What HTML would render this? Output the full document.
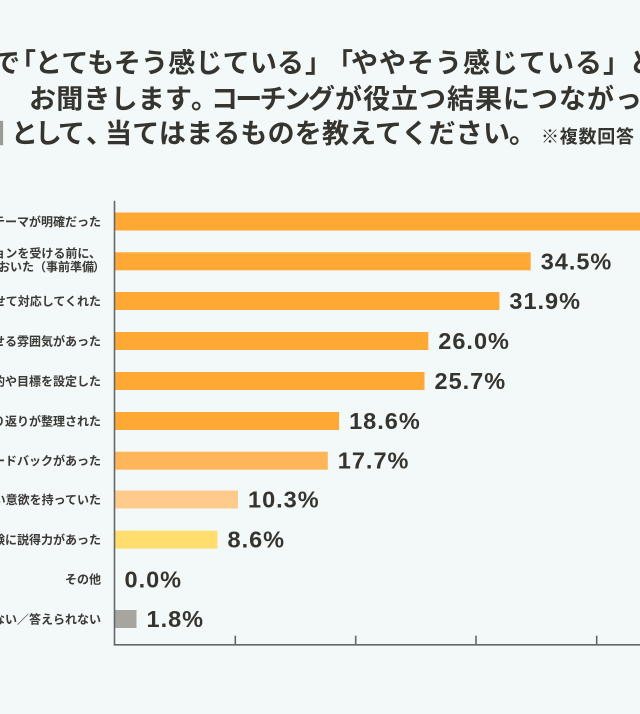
<!DOCTYPE html>
<html>
<head>
<meta charset="utf-8">
<style>
html,body{margin:0;padding:0;background:#F3F9F9;overflow:hidden;}
body{width:640px;height:714px;}
svg{display:block;}
.t{font-family:"Liberation Sans","Noto Sans CJK JP",sans-serif;font-weight:bold;fill:#35342f;}
.lab{font-family:"Liberation Sans","Noto Sans CJK JP",sans-serif;font-weight:bold;font-size:12px;fill:#3a3935;}
.val{font-family:"Liberation Sans","DejaVu Sans",sans-serif;font-weight:bold;font-size:23.5px;letter-spacing:1px;fill:#35342f;}
</style>
</head>
<body>
<svg width="640" height="714" viewBox="0 0 640 714" xmlns="http://www.w3.org/2000/svg">
<rect x="0" y="0" width="640" height="714" fill="#F3F9F9"/>

<!-- Title -->
<g class="t" font-size="27">
  <text x="-7" y="72.5">で</text>
  <text x="9" y="72.5">「</text>
  <text x="35" y="72.5" textLength="269" lengthAdjust="spacing">とてもそう感じている</text>
  <text x="305" y="72.5">」</text>
  <text x="326" y="72.5">「</text>
  <text x="351" y="72.5" textLength="251" lengthAdjust="spacing">ややそう感じている</text>
  <text x="603" y="72.5">」</text>
  <text x="629" y="72.5">と</text>

  <text x="29" y="108.5" textLength="163" lengthAdjust="spacing">お聞きします</text>
  <text x="191" y="108.5">。</text>
  <text x="211" y="108.5" textLength="124" lengthAdjust="spacing">コーチング</text>
  <text x="335" y="108.5" textLength="307" lengthAdjust="spacing">が役立つ結果につながっ</text>

  <text x="-22" y="143" fill="#9a9a96">因</text>
  <text x="11" y="143" textLength="74" lengthAdjust="spacing">として</text>
  <text x="86" y="143">、</text>
  <text x="105" y="143" textLength="405" lengthAdjust="spacing">当てはまるものを教えてください</text>
  <text x="509" y="143">。</text>
  <text x="541" y="143" font-size="18" textLength="93" lengthAdjust="spacing">※複数回答</text>
</g>

<!-- Bars -->
<g>
  <rect x="115" y="212.5" width="530" height="18" fill="#FFA834"/>
  <rect x="115" y="252.3" width="415.7" height="18" fill="#FFA834"/>
  <rect x="115" y="292" width="384.4" height="18" fill="#FFA834"/>
  <rect x="115" y="332" width="313.3" height="18" fill="#FFA834"/>
  <rect x="115" y="372" width="309.5" height="18" fill="#FFA834"/>
  <rect x="115" y="412" width="224.1" height="18" fill="#FFA834"/>
  <rect x="115" y="451.7" width="212.8" height="18" fill="#FFB658"/>
  <rect x="115" y="490.5" width="123" height="18" fill="#FFCB8D"/>
  <rect x="115" y="530.7" width="102.5" height="18" fill="#FFDD6E"/>
  <rect x="115" y="610" width="21.5" height="18" fill="#A6A59F"/>
</g>

<!-- Axes -->
<g stroke="#63676a" stroke-width="1.6" fill="none">
  <line x1="114.5" y1="200.7" x2="114.5" y2="645.5"/>
  <line x1="113.7" y1="644.8" x2="640" y2="644.8"/>
  <line x1="235.3" y1="635.7" x2="235.3" y2="644.8"/>
  <line x1="355.7" y1="635.7" x2="355.7" y2="644.8"/>
  <line x1="476" y1="635.7" x2="476" y2="644.8"/>
  <line x1="596.7" y1="635.7" x2="596.7" y2="644.8"/>
</g>

<!-- Category labels -->
<g class="lab" text-anchor="end">
  <text x="101" y="226">コーチングのテーマが明確だった</text>
  <text x="101" y="257.5">セッションを受ける前に、</text>
  <text x="94" y="271">話したいことを整理しておいた（事前準備</text>
  <text x="93" y="271" text-anchor="start">）</text>
  <text x="101" y="305.5">コーチが状況に合わせて対応してくれた</text>
  <text x="101" y="345.5">安心して話せる雰囲気があった</text>
  <text x="101" y="385.5">セッションの目的や目標を設定した</text>
  <text x="101" y="425.5">自分の考えや振り返りが整理された</text>
  <text x="101" y="465">コーチからのフィードバックがあった</text>
  <text x="101" y="504">自分自身が強い意欲を持っていた</text>
  <text x="101" y="544">コーチの経験に説得力があった</text>
  <text x="101" y="583.5">その他</text>
  <text x="101" y="623.5">わからない／答えられない</text>
</g>

<!-- Value labels -->
<g class="val">
  <text x="540.7" y="269.3">34.5%</text>
  <text x="509.4" y="309">31.9%</text>
  <text x="438.3" y="349">26.0%</text>
  <text x="434.5" y="389">25.7%</text>
  <text x="349.1" y="429">18.6%</text>
  <text x="337.8" y="468.7">17.7%</text>
  <text x="248" y="507.5">10.3%</text>
  <text x="227.5" y="547.7">8.6%</text>
  <text x="124.5" y="587.7">0.0%</text>
  <text x="146.5" y="627">1.8%</text>
</g>
</svg>
</body>
</html>
